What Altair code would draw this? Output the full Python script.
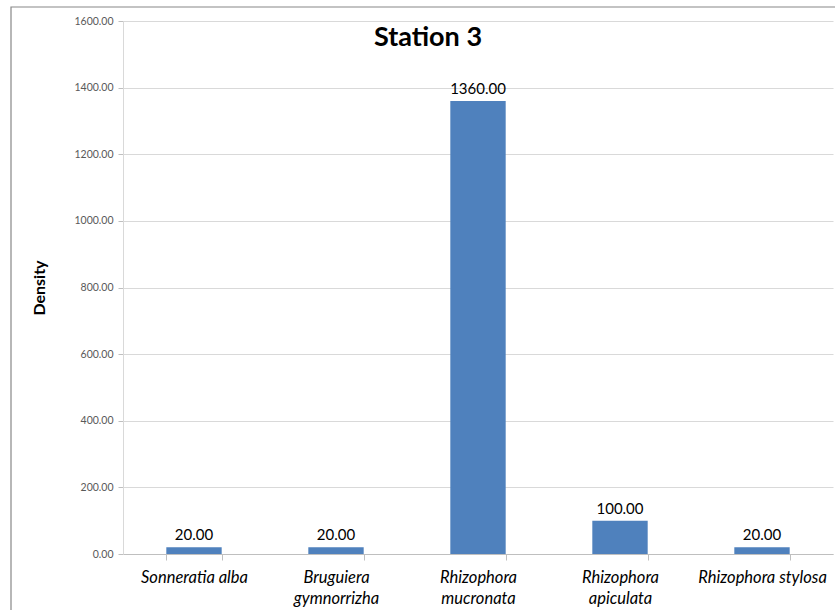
import altair as alt
import pandas as pd

species = ["Sonneratia alba", "Bruguiera gymnorrizha", "Rhizophora mucronata",
           "Rhizophora apiculata", "Rhizophora stylosa"]
density = [20.0, 20.0, 1360.0, 100.0, 20.0]
y_ticks = [0, 200, 400, 600, 800, 1000, 1200, 1400, 1600]

df = pd.DataFrame({"species": species, "density": density})
df["label"] = df["density"].map(lambda v: f"{v:.2f}")

FONT = "Lato"

x_enc = alt.X(
    "species:N", sort=species, title=None,
    scale=alt.Scale(paddingInner=0.61, paddingOuter=0.305),
    axis=alt.Axis(
        labelAngle=0, labelFont=FONT, labelFontStyle="italic", labelFontSize=16.5,
        labelColor="#000000", labelPadding=9, labelLineHeight=21,
        labelExpr="indexof(['Bruguiera gymnorrizha','Rhizophora mucronata','Rhizophora apiculata'], datum.label) >= 0 ? split(datum.label, ' ') : datum.label",
        tickBand="extent", tickColor="#bfbfbf", tickSize=6,
        domainColor="#bfbfbf", grid=False,
    ),
)
y_enc = alt.Y(
    "density:Q", title="Density",
    scale=alt.Scale(domain=[0, 1600], nice=False),
    axis=alt.Axis(
        values=y_ticks, format=".2f", labelFont=FONT, labelFontSize=10.5,
        labelColor="#595959", labelPadding=5, tickColor="#bfbfbf", tickSize=5,
        domainColor="#d9d9d9", gridColor="#d9d9d9",
        titleFont=FONT, titleFontSize=16, titleFontWeight="bold",
        titleColor="#000000", titlePadding=26,
    ),
)

bars = alt.Chart(df).mark_bar(color="#4F81BD").encode(x=x_enc, y=y_enc)
labels = alt.Chart(df).mark_text(
    font=FONT, fontSize=15, color="#000000", baseline="bottom", dy=-4
).encode(x=alt.X("species:N", sort=species), y="density:Q", text="label:N")

frame = alt.Chart(pd.DataFrame({"k": [0]})).mark_rect(
    fill=None, stroke="#888888", strokeWidth=1.2
).encode(x=alt.value(-112), x2=alt.value(760), y=alt.value(-14), y2=alt.value(640))

chart = alt.layer(frame, bars, labels).properties(
    width=710, height=533,
    padding={"left": 123, "top": 21, "right": 2, "bottom": 56},
    autosize=alt.AutoSizeParams(type="none"),
    title=alt.TitleParams(
        "Station 3", font=FONT, fontSize=27, fontWeight="bold", color="#000000",
        anchor="middle", dx=-50, dy=50,
    ),
).configure_view(stroke=None)

chart.save("out.html", embed_options={"renderer": "svg", "actions": False})
